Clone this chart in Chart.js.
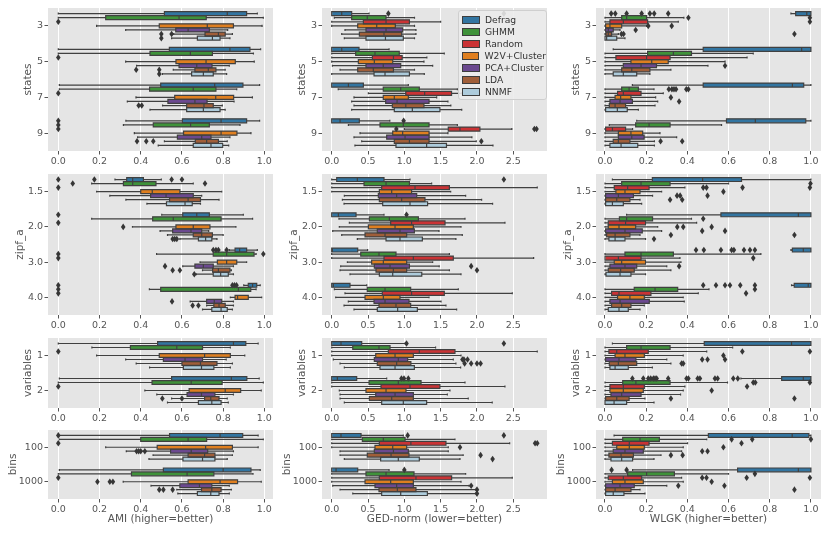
<!DOCTYPE html>
<html>
<head>
<meta charset="utf-8">
<script src="https://cdn.jsdelivr.net/npm/chart.js@4.4.1/dist/chart.umd.min.js"></script>
<style>
  html, body { margin: 0; padding: 0; background: #fff; width: 830px; height: 534px; overflow: hidden; position: relative; }
  canvas { position: absolute; }
  #legend { position: absolute; left: 458px; top: 10px; width: 87px; height: 85px; padding-top: 3px;
            background: rgba(236,236,236,0.88); border: 1px solid #cfcfcf; border-radius: 3px; z-index: 5;
            font-family: "DejaVu Sans"; font-size: 9.2px; color: #333; }
  #legend .row { height: 12px; line-height: 12px; display: flex; align-items: center; white-space: nowrap; }
  #legend .sw { width: 16px; height: 6px; margin: 0 5px 0 3px; border: 1px solid #3d3d3d; }
</style>
</head>
<body>
<div id="legend"></div>
<script>
// methods and palette
const methods = ['Defrag', 'GHMM', 'Random', 'W2V+Cluster', 'PCA+Cluster', 'LDA', 'NNMF'];
const colors = ['#3275A1', '#3F923A', '#CA3335', '#DF7F20', '#6B498F', '#A05E39', '#ADCBDB'];

// y categories
const statesLabels = ['3', '5', '7', '9'];
const zipfLabels = ['1.5', '2.0', '3.0', '4.0'];
const varsLabels = ['1', '2'];
const binsLabels = ['100', '1000'];

// x ticks
const amiTicks = [0, 0.2, 0.4, 0.6, 0.8, 1.0];
const gedTicks = [0, 0.5, 1.0, 1.5, 2.0, 2.5];
const wlgkTicks = [0, 0.2, 0.4, 0.6, 0.8, 1.0];

// box stats per method, per group: [whisker low, q1, median, q3, whisker high]
// outliers: [method, group, value]
const amiStates = [
  [[0, 0.515, 0.82, 0.914, 0.966], [0, 0.539, 0.833, 0.93, 0.982], [0.005, 0.497, 0.759, 0.896, 0.977], [0.328, 0.602, 0.79, 0.914, 0.977]],
  [[0, 0.23, 0.586, 0.718, 0.995], [0, 0.445, 0.641, 0.748, 0.947], [0.005, 0.443, 0.655, 0.765, 0.866], [0.316, 0.461, 0.642, 0.733, 0.882]],
  [[0, 0, 0, 0, 0], [0, 0, 0, 0, 0], [0, 0, 0, 0, 0], [0, 0, 0, 0, 0]],
  [[0.186, 0.49, 0.723, 0.85, 0.989], [0.327, 0.571, 0.717, 0.859, 0.951], [0.377, 0.565, 0.764, 0.851, 0.942], [0.369, 0.608, 0.79, 0.867, 0.935]],
  [[0.327, 0.57, 0.63, 0.733, 0.822], [0.38, 0.586, 0.672, 0.746, 0.83], [0.335, 0.532, 0.663, 0.722, 0.853], [0.385, 0.578, 0.696, 0.741, 0.833]],
  [[0.56, 0.712, 0.777, 0.81, 0.845], [0.558, 0.663, 0.728, 0.765, 0.81], [0.506, 0.623, 0.707, 0.752, 0.796], [0.515, 0.665, 0.72, 0.777, 0.82]],
  [[0.55, 0.675, 0.748, 0.785, 0.833], [0.505, 0.647, 0.704, 0.752, 0.817], [0.445, 0.623, 0.704, 0.785, 0.81], [0.485, 0.655, 0.741, 0.798, 0.827]]
];
const amiStatesOut = [[2, 0, 0], [2, 1, 0], [2, 2, 0], [2, 3, 0], [0, 3, 0], [1, 3, 0],
  [5, 0, 0.5], [5, 0, 0.55], [6, 0, 0.5], [5, 1, 0.378], [5, 1, 0.49], [6, 1, 0.49],
  [5, 2, 0.39], [5, 2, 0.405], [5, 3, 0.382], [5, 3, 0.427], [5, 3, 0.461]];

const gedStates = [
  [[0, 0, 0.138, 0.275, 0.514], [0, 0, 0.138, 0.376, 0.79], [0, 0, 0.23, 0.436, 1.055], [0, 0, 0.115, 0.38, 0.8]],
  [[0.037, 0.275, 0.49, 0.748, 1.14], [0, 0.33, 0.596, 0.93, 1.55], [0.09, 0.71, 0.95, 1.206, 1.73], [0.23, 0.665, 0.986, 1.34, 1.73]],
  [[0, 0.436, 0.748, 1.07, 1.5], [0, 0.56, 0.85, 0.97, 1.31], [0.505, 1.02, 1.28, 1.65, 1.79], [1.0, 1.605, 1.766, 2.04, 2.48]],
  [[0, 0.358, 0.62, 0.876, 1.14], [0, 0.367, 0.587, 0.84, 1.27], [0.307, 0.71, 0.862, 1.055, 1.445], [0.39, 0.84, 0.977, 1.34, 1.6]],
  [[0.183, 0.472, 0.748, 0.977, 1.16], [0.01, 0.472, 0.71, 0.95, 1.39], [0.275, 0.743, 0.9, 1.34, 1.6], [0.307, 0.757, 1.01, 1.34, 1.93]],
  [[0.138, 0.381, 0.72, 0.963, 1.16], [0.115, 0.358, 0.573, 0.85, 1.14], [0.307, 0.835, 1.02, 1.27, 1.64], [0.413, 0.862, 1.07, 1.34, 1.99]],
  [[0.174, 0.472, 0.74, 0.986, 1.14], [0, 0.583, 0.734, 1.07, 1.275], [0.275, 0.862, 1.11, 1.49, 1.79], [0.32, 0.885, 1.307, 1.58, 2.22]]
];
const gedStatesOut = [[0, 0, 0.78], [0, 0, 2.37], [0, 3, 0.99], [2, 3, 0.89], [2, 3, 2.79], [2, 3, 2.82], [5, 3, 2.06]];

const wlgkStates = [
  [[0.903, 0.926, 0.98, 1.0, 1.0], [0.04, 0.477, 0.955, 1.0, 1.0], [0.133, 0.477, 0.91, 0.965, 1.0], [0.154, 0.59, 0.73, 0.975, 1.0]],
  [[0, 0.081, 0.105, 0.202, 0.383], [0, 0.207, 0.332, 0.42, 0.72], [0, 0.081, 0.117, 0.162, 0.238], [0.021, 0.149, 0.214, 0.316, 0.566]],
  [[0, 0.024, 0.089, 0.207, 0.356], [0, 0.053, 0.202, 0.316, 0.69], [0, 0.061, 0.089, 0.175, 0.283], [0, 0.003, 0.036, 0.1, 0.134]],
  [[0, 0.003, 0.024, 0.081, 0.202], [0, 0.126, 0.227, 0.307, 0.583], [0, 0.049, 0.076, 0.126, 0.246], [0, 0.065, 0.126, 0.183, 0.267]],
  [[0, 0.003, 0.016, 0.04, 0.073], [0, 0.089, 0.175, 0.25, 0.5], [0, 0.024, 0.073, 0.133, 0.256], [0, 0.065, 0.13, 0.19, 0.348]],
  [[0, 0.005, 0.016, 0.032, 0.065], [0, 0.081, 0.13, 0.218, 0.32], [0, 0.021, 0.049, 0.1, 0.243], [0, 0.04, 0.065, 0.121, 0.24]],
  [[0, 0, 0.008, 0.057, 0.097], [0, 0.04, 0.089, 0.154, 0.218], [0, 0.003, 0.06, 0.108, 0.162], [0, 0.024, 0.078, 0.159, 0.24]]
];
const wlgkStatesOut = [[0, 0, 0.03], [0, 0, 0.05], [0, 0, 0.105], [0, 0, 0.178], [0, 0, 0.218], [0, 0, 0.239], [0, 0, 0.307],
  [1, 0, 0.405], [1, 0, 0.995], [2, 0, 0.995], [3, 0, 0.21], [3, 0, 0.324], [4, 0, 0.149], [5, 0, 0.08], [5, 0, 0.09], [5, 0, 0.92],
  [4, 1, 0.583],
  [1, 2, 0.31], [1, 2, 0.325], [1, 2, 0.335], [1, 2, 0.345], [1, 2, 0.395], [1, 2, 0.405], [3, 2, 0.32], [4, 2, 0.36],
  [5, 3, 0.27], [5, 3, 0.375]];

const amiZipf = [
  [[0.275, 0.332, 0.361, 0.413, 0.5], [0.502, 0.604, 0.672, 0.733, 0.898], [0.83, 0.858, 0.88, 0.914, 0.966], [0.9, 0.922, 0.943, 0.963, 0.98]],
  [[0.162, 0.316, 0.361, 0.474, 0.655], [0.162, 0.458, 0.558, 0.79, 0.943], [0.477, 0.752, 0.817, 0.95, 0.96], [0.442, 0.497, 0.874, 0.934, 0.96]],
  [[0, 0, 0, 0, 0], [0, 0, 0, 0, 0], [0, 0, 0, 0, 0], [0, 0, 0, 0, 0]],
  [[0.186, 0.4, 0.456, 0.59, 0.793], [0.36, 0.571, 0.655, 0.736, 0.862], [0.688, 0.772, 0.817, 0.866, 0.914], [0.835, 0.858, 0.87, 0.922, 0.987]],
  [[0.25, 0.448, 0.523, 0.655, 0.696], [0.494, 0.555, 0.644, 0.696, 0.73], [0.604, 0.663, 0.704, 0.752, 0.85], [0.64, 0.72, 0.757, 0.793, 0.85]],
  [[0.328, 0.54, 0.63, 0.69, 0.78], [0.53, 0.655, 0.696, 0.748, 0.8], [0.7, 0.749, 0.777, 0.833, 0.84], [0.72, 0.755, 0.78, 0.81, 0.85]],
  [[0.43, 0.525, 0.615, 0.65, 0.69], [0.59, 0.68, 0.715, 0.745, 0.77], [0.67, 0.752, 0.788, 0.825, 0.85], [0.7, 0.745, 0.79, 0.82, 0.845]]
];
const amiZipfOut = [[0, 0, 0], [0, 0, 0.175], [0, 0, 0.55], [0, 0, 0.6], [1, 0, 0.07], [1, 0, 0.712],
  [2, 0, 0], [2, 1, 0], [2, 2, 0], [2, 3, 0],
  [0, 1, 0], [3, 1, 0.315], [6, 1, 0.555], [6, 1, 0.565], [6, 1, 0.575],
  [0, 2, 0.752], [0, 2, 0.765], [0, 2, 0.777], [0, 2, 0.817], [1, 2, 0], [1, 2, 0.995], [4, 2, 0.518], [5, 2, 0.555], [5, 2, 0.59], [6, 2, 0.66],
  [0, 3, 0.845], [0, 3, 0.855], [0, 3, 0.865], [0, 3, 0], [1, 3, 0], [4, 3, 0.552], [5, 3, 0.652], [5, 3, 0.68]];

const gedZipf = [
  [[0, 0.069, 0.353, 0.72, 1.078], [0, 0, 0.092, 0.335, 0.72], [0, 0, 0.01, 0.358, 0.495], [0, 0, 0.023, 0.252, 0.482]],
  [[0, 0.445, 0.748, 1.07, 1.376], [0.1, 0.518, 0.794, 1.193, 1.835], [0, 0.4, 0.651, 0.885, 1.62], [0.037, 0.49, 0.734, 1.087, 1.743]],
  [[0, 0.688, 1.147, 1.62, 2.83], [0.243, 0.812, 1.1, 1.56, 2.385], [0, 0.72, 1.124, 1.674, 2.78], [0.183, 0.697, 1.1, 1.55, 2.486]],
  [[0, 0.656, 0.826, 1.1, 1.638], [0.105, 0.505, 0.872, 1.124, 1.78], [0.216, 0.55, 0.711, 1.032, 1.39], [0.055, 0.459, 0.711, 0.94, 1.34]],
  [[0.174, 0.642, 0.894, 1.17, 1.844], [0.014, 0.628, 0.94, 1.138, 1.477], [0.124, 0.587, 0.803, 1.07, 1.48], [0.229, 0.583, 0.734, 1.064, 1.505]],
  [[0.147, 0.656, 0.963, 1.284, 2.064], [0.138, 0.459, 0.734, 1.032, 1.798], [0.115, 0.61, 0.849, 1.032, 1.62], [0.17, 0.651, 0.885, 1.087, 1.573]],
  [[0.17, 0.702, 1.078, 1.32, 2.215], [0.353, 0.748, 0.94, 1.248, 1.71], [0.252, 0.656, 0.84, 1.24, 1.78], [0.307, 0.628, 0.908, 1.179, 1.72]]
];
const gedZipfOut = [[0, 0, 2.37], [0, 1, 1.03], [4, 2, 1.92], [5, 2, 2.0]];

const wlgkZipf = [
  [[0.036, 0.23, 0.474, 0.663, 1.0], [0.105, 0.563, 0.939, 1.0, 1.0], [0.903, 0.91, 0.963, 1.0, 1.0], [0.906, 0.919, 0.987, 1.0, 1.0]],
  [[0, 0.081, 0.175, 0.316, 0.6], [0, 0.07, 0.105, 0.231, 0.42], [0, 0.097, 0.175, 0.332, 0.757], [0, 0.142, 0.243, 0.353, 0.505]],
  [[0, 0.045, 0.11, 0.214, 0.388], [0, 0.016, 0.1, 0.197, 0.445], [0, 0, 0.065, 0.175, 0.364], [0, 0.032, 0.068, 0.223, 0.453]],
  [[0, 0.053, 0.097, 0.17, 0.275], [0, 0.016, 0.068, 0.149, 0.256], [0, 0.045, 0.081, 0.197, 0.369], [0, 0.061, 0.121, 0.191, 0.38]],
  [[0, 0.003, 0.065, 0.138, 0.231], [0, 0.003, 0.097, 0.181, 0.275], [0, 0.024, 0.097, 0.154, 0.3], [0, 0.024, 0.073, 0.215, 0.385]],
  [[0, 0.003, 0.057, 0.121, 0.17], [0, 0.008, 0.049, 0.121, 0.17], [0, 0.016, 0.076, 0.142, 0.32], [0, 0.032, 0.081, 0.126, 0.191]],
  [[0, 0.003, 0.036, 0.089, 0.178], [0, 0.019, 0.049, 0.097, 0.197], [0, 0.005, 0.073, 0.126, 0.197], [0, 0.016, 0.068, 0.113, 0.17]]
];
const wlgkZipfOut = [[1, 0, 0.998], [2, 0, 0.477], [2, 0, 0.493], [2, 0, 0.668], [2, 0, 0.995], [3, 0, 0.575],
  [4, 0, 0.35], [4, 0, 0.365], [4, 0, 0.498], [5, 0, 0.316], [5, 0, 0.375],
  [1, 1, 0.477], [3, 1, 0.351], [3, 1, 0.38], [3, 1, 0.518], [4, 1, 0.472], [4, 1, 0.583], [5, 1, 0.32], [5, 1, 0.92], [6, 1, 0.238],
  [0, 2, 0.442], [0, 2, 0.48], [0, 2, 0.563], [0, 2, 0.615], [0, 2, 0.626], [0, 2, 0.675], [0, 2, 0.704], [0, 2, 0.728], [2, 2, 0.72], [4, 2, 0.36],
  [0, 3, 0.477], [0, 3, 0.539], [0, 3, 0.583], [0, 3, 0.607], [0, 3, 0.657], [0, 3, 0.728], [1, 3, 0.728], [2, 3, 0.685]];

const amiVars = [
  [[0, 0.482, 0.85, 0.91, 0.97], [0.005, 0.55, 0.84, 0.915, 0.975]],
  [[0.163, 0.35, 0.575, 0.7, 0.835], [0, 0.455, 0.645, 0.795, 0.995]],
  [[0, 0, 0, 0, 0], [0, 0, 0, 0, 0]],
  [[0.186, 0.49, 0.71, 0.835, 0.905], [0.42, 0.635, 0.81, 0.885, 0.985]],
  [[0.327, 0.51, 0.615, 0.7, 0.815], [0.478, 0.625, 0.695, 0.76, 0.85]],
  [[0.378, 0.6, 0.69, 0.77, 0.845], [0.55, 0.71, 0.74, 0.78, 0.82]],
  [[0.443, 0.607, 0.695, 0.755, 0.835], [0.53, 0.68, 0.745, 0.79, 0.825]]
];
const amiVarsOut = [[2, 0, 0], [2, 1, 0], [5, 1, 0.505], [5, 1, 0.6]];

const gedVars = [
  [[0, 0, 0.128, 0.413, 1.01], [0, 0, 0.078, 0.344, 0.757]],
  [[0, 0.29, 0.651, 0.803, 1.43], [0, 0.514, 0.917, 1.23, 1.835]],
  [[0, 0.78, 1.206, 1.697, 2.83], [0, 0.679, 1.078, 1.49, 2.385]],
  [[0, 0.606, 0.872, 1.124, 1.78], [0.105, 0.472, 0.748, 1.023, 1.628]],
  [[0.023, 0.587, 0.917, 1.046, 1.674], [0.115, 0.606, 0.872, 1.124, 1.592]],
  [[0.115, 0.628, 0.894, 1.09, 1.71], [0.115, 0.518, 0.826, 1.124, 1.88]],
  [[0.174, 0.665, 0.872, 1.138, 1.775], [0.174, 0.688, 0.986, 1.307, 2.21]]
];
const gedVarsOut = [[0, 0, 1.03], [0, 0, 2.37], [4, 0, 1.8], [4, 0, 1.82], [4, 0, 1.87], [5, 0, 1.83], [5, 0, 1.92], [5, 0, 2.0], [5, 0, 2.05],
  [0, 1, 0.96], [0, 1, 0.995], [0, 1, 1.055]];

const wlgkVars = [
  [[0.036, 0.482, 0.906, 1.0, 1.0], [0.66, 0.858, 0.963, 1.0, 1.0]],
  [[0, 0.105, 0.175, 0.316, 0.62], [0, 0.086, 0.15, 0.316, 0.595]],
  [[0, 0.019, 0.057, 0.21, 0.494], [0, 0.024, 0.089, 0.191, 0.388]],
  [[0, 0.049, 0.097, 0.191, 0.38], [0, 0.024, 0.089, 0.186, 0.38]],
  [[0, 0.003, 0.068, 0.15, 0.3], [0, 0.029, 0.081, 0.175, 0.367]],
  [[0, 0.021, 0.065, 0.154, 0.32], [0, 0.003, 0.057, 0.117, 0.194]],
  [[0, 0.024, 0.049, 0.113, 0.23], [0, 0, 0.044, 0.105, 0.238]]
];
const wlgkVarsOut = [[2, 0, 0.667], [2, 0, 0.995], [3, 0, 0.575], [4, 0, 0.472], [4, 0, 0.498], [4, 0, 0.583], [5, 0, 0.372], [5, 0, 0.38],
  [0, 1, 0.133], [0, 1, 0.186], [0, 1, 0.21], [0, 1, 0.222], [0, 1, 0.235], [0, 1, 0.243], [0, 1, 0.251], [0, 1, 0.307],
  [0, 1, 0.396], [0, 1, 0.405], [0, 1, 0.45], [0, 1, 0.461], [0, 1, 0.534], [0, 1, 0.547], [0, 1, 0.623], [0, 1, 0.645],
  [1, 1, 0.72], [1, 1, 0.73], [1, 1, 0.995], [2, 1, 0.69], [3, 1, 0.518], [5, 1, 0.32], [5, 1, 0.92]];

const amiBins = [
  [[0, 0.54, 0.785, 0.895, 0.97], [0.005, 0.51, 0.8, 0.935, 0.98]],
  [[0.005, 0.4, 0.63, 0.72, 0.995], [0, 0.355, 0.625, 0.755, 0.945]],
  [[0, 0, 0, 0, 0], [0, 0, 0, 0, 0]],
  [[0.23, 0.48, 0.715, 0.845, 0.97], [0.315, 0.63, 0.785, 0.87, 0.985]],
  [[0.33, 0.545, 0.645, 0.725, 0.85], [0.45, 0.59, 0.685, 0.745, 0.83]],
  [[0.46, 0.63, 0.71, 0.76, 0.845], [0.575, 0.695, 0.745, 0.79, 0.84]],
  [[0.44, 0.605, 0.7, 0.76, 0.82], [0.58, 0.675, 0.74, 0.78, 0.83]]
];
const amiBinsOut = [[0, 0, 0], [2, 0, 0], [2, 1, 0], [3, 1, 0.19], [3, 1, 0.25], [3, 1, 0.265],
  [4, 0, 0.38], [4, 0, 0.39], [4, 0, 0.4], [4, 0, 0.42], [5, 1, 0.49], [5, 1, 0.51], [5, 1, 0.555]];

const gedBins = [
  [[0, 0, 0.128, 0.404, 0.986], [0, 0, 0.06, 0.358, 0.79]],
  [[0, 0.422, 0.711, 1.01, 1.697], [0, 0.472, 0.748, 1.133, 1.844]],
  [[0, 0.656, 1.09, 1.573, 2.45], [0, 0.656, 1.16, 1.651, 2.486]],
  [[0, 0.596, 0.84, 1.032, 1.605], [0, 0.459, 0.812, 1.124, 1.78]],
  [[0.115, 0.587, 0.85, 1.055, 1.605], [0.014, 0.596, 0.894, 1.124, 1.89]],
  [[0.115, 0.49, 0.817, 1.064, 1.81], [0.115, 0.651, 0.904, 1.16, 1.98]],
  [[0.174, 0.674, 0.917, 1.206, 1.766], [0.29, 0.688, 0.95, 1.317, 1.98]]
];
const gedBinsOut = [[0, 0, 1.046], [0, 0, 2.37], [2, 0, 2.8], [2, 0, 2.83], [3, 0, 1.766], [5, 0, 2.05], [6, 0, 2.215],
  [0, 1, 1.0], [4, 1, 1.92], [5, 1, 2.0], [6, 1, 2.0]];

const wlgkBins = [
  [[0.044, 0.502, 0.909, 0.99, 1.0], [0.134, 0.644, 0.939, 1.0, 1.0]],
  [[0, 0.086, 0.17, 0.264, 0.494], [0, 0.11, 0.202, 0.337, 0.6]],
  [[0, 0.036, 0.118, 0.214, 0.401], [0, 0.016, 0.089, 0.178, 0.372]],
  [[0, 0.057, 0.118, 0.191, 0.38], [0, 0.036, 0.097, 0.186, 0.38]],
  [[0, 0.04, 0.097, 0.186, 0.372], [0, 0.003, 0.073, 0.142, 0.3]],
  [[0, 0.019, 0.078, 0.138, 0.272], [0, 0.003, 0.049, 0.126, 0.17]],
  [[0, 0.029, 0.081, 0.134, 0.238], [0, 0.003, 0.04, 0.092, 0.194]]
];
const wlgkBinsOut = [[1, 0, 0.615], [1, 0, 0.715], [1, 0, 1.0], [2, 0, 0.663], [3, 0, 0.575], [4, 0, 0.472], [4, 0, 0.498], [5, 0, 0.32], [5, 0, 0.377],
  [0, 1, 0.032], [0, 1, 0.105], [1, 1, 0.728], [2, 1, 0.472], [2, 1, 0.493], [2, 1, 0.688], [2, 1, 0.995], [3, 1, 0.518], [4, 1, 0.356], [4, 1, 0.58], [5, 1, 0.92]];

// layout of the grid (pixels)
const YW = 48, PT = 10, PR = 14;
const EDGE = '#404040';
const rows = [
  {top: 8, bottom: 151, xh: 18, labels: statesLabels, title: 'states', dist: 19.5},
  {top: 174, bottom: 315, xh: 18, labels: zipfLabels, title: 'zipf_a', dist: 27.5},
  {top: 338, bottom: 408, xh: 18, labels: varsLabels, title: 'variables', dist: 19.5},
  {top: 430, bottom: 499, xh: 36, labels: binsLabels, title: 'bins', dist: 35}
];
const cols = [
  {left: 48, right: 273, min: -0.05, max: 1.042, ticks: amiTicks, xTitle: 'AMI (higher=better)'},
  {left: 322, right: 547, min: -0.1335, max: 2.964, ticks: gedTicks, xTitle: 'GED-norm (lower=better)'},
  {left: 596, right: 821, min: -0.0437, max: 1.049, ticks: wlgkTicks, xTitle: 'WLGK (higher=better)'}
];
const panels = [
  [[amiStates, amiStatesOut], [gedStates, gedStatesOut], [wlgkStates, wlgkStatesOut]],
  [[amiZipf, amiZipfOut], [gedZipf, gedZipfOut], [wlgkZipf, wlgkZipfOut]],
  [[amiVars, amiVarsOut], [gedVars, gedVarsOut], [wlgkVars, wlgkVarsOut]],
  [[amiBins, amiBinsOut], [gedBins, gedBinsOut], [wlgkBins, wlgkBinsOut]]
];

Chart.defaults.font.family = 'DejaVu Sans';
Chart.defaults.color = '#555';

// background, box outlines, whiskers, medians and fliers
const boxPlugin = {
  id: 'boxes',
  beforeDraw(chart) {
    const {ctx, chartArea: a} = chart;
    ctx.save();
    ctx.fillStyle = '#E5E5E5';
    ctx.fillRect(a.left, a.top, a.right - a.left, a.bottom - a.top);
    ctx.restore();
  },
  afterDatasetsDraw(chart) {
    const {ctx} = chart;
    const xs = chart.scales.x;
    const px = v => xs.getPixelForValue(v);
    ctx.save();
    ctx.strokeStyle = EDGE;
    ctx.lineWidth = 1.2;
    ctx.fillStyle = '#363636';
    chart.data.datasets.forEach((ds, i) => {
      const meta = chart.getDatasetMeta(i);
      meta.data.forEach((bar, j) => {
        const [lo, q1, med, q3, hi] = ds.stats[j];
        const y = bar.y, h = bar.height;
        if (hi > lo) {
          ctx.beginPath();
          ctx.rect(px(q1), y - h / 2, px(q3) - px(q1), h);
          ctx.moveTo(px(lo), y); ctx.lineTo(px(q1), y);
          ctx.moveTo(px(q3), y); ctx.lineTo(px(hi), y);
          ctx.moveTo(px(lo), y - h / 4); ctx.lineTo(px(lo), y + h / 4);
          ctx.moveTo(px(hi), y - h / 4); ctx.lineTo(px(hi), y + h / 4);
          ctx.moveTo(px(med), y - h / 2); ctx.lineTo(px(med), y + h / 2);
          ctx.stroke();
        }
        ds.outliers[j].forEach(v => {
          const cx = px(v);
          ctx.beginPath();
          ctx.moveTo(cx, y - 3.3); ctx.lineTo(cx + 2.3, y); ctx.lineTo(cx, y + 3.3); ctx.lineTo(cx - 2.3, y);
          ctx.closePath();
          ctx.fill();
        });
      });
    });
    ctx.restore();
  }
};

function makePanel(r, c) {
  const row = rows[r], col = cols[c];
  const [stats, out] = panels[r][c];
  const canvas = document.createElement('canvas');
  const w = YW + (col.right - col.left) + PR;
  const h = PT + (row.bottom - row.top) + row.xh;
  canvas.width = w; canvas.height = h;
  canvas.style.width = w + 'px'; canvas.style.height = h + 'px';
  canvas.style.left = (col.left - YW) + 'px';
  canvas.style.top = (row.top - PT) + 'px';
  document.body.appendChild(canvas);

  const datasets = methods.map((m, i) => ({
    label: m,
    data: stats[i].map(s => [s[1], s[3]]),
    stats: stats[i],
    outliers: row.labels.map((_, g) => out.filter(o => o[0] === i && o[1] === g).map(o => o[2])),
    backgroundColor: colors[i],
    borderWidth: 0,
    categoryPercentage: 0.8,
    barPercentage: 0.98
  }));

  new Chart(canvas.getContext('2d'), {
    type: 'bar',
    data: {labels: row.labels, datasets: datasets},
    plugins: [boxPlugin],
    options: {
      indexAxis: 'y',
      responsive: false,
      animation: false,
      events: [],
      layout: {padding: {top: PT, right: PR, left: 0, bottom: 0}},
      plugins: {legend: {display: false}, tooltip: {enabled: false}},
      scales: {
        x: {
          type: 'linear',
          min: col.min,
          max: col.max,
          afterBuildTicks: s => { s.ticks = col.ticks.map(v => ({value: v})); },
          afterFit: s => { s.height = row.xh; },
          grid: {color: '#ffffff', lineWidth: 1, drawTicks: true, tickLength: 3.5, tickColor: '#555', tickWidth: 1},
          border: {display: false},
          ticks: {color: '#555', font: {size: 9.5}, padding: 1, maxRotation: 0, autoSkip: false,
                  callback: v => Number(v).toFixed(1)},
          title: {display: r === 3, text: col.xTitle, color: '#555', font: {size: 10.5},
                  padding: {top: 0, bottom: 9}}
        },
        y: {
          type: 'category',
          afterFit: s => { s.width = YW; },
          grid: {display: true, offset: false, drawOnChartArea: false, drawTicks: true, tickLength: 3.5, tickColor: '#555', tickWidth: 1},
          border: {display: false},
          ticks: {color: '#555', font: {size: 9.5}, padding: 1.5},
          title: {display: true, text: row.title, color: '#555', font: {size: 10.5},
                  padding: {top: YW - row.dist - 6.3, bottom: 0}}
        }
      }
    }
  });
}

for (let r = 0; r < rows.length; r++) {
  for (let c = 0; c < cols.length; c++) makePanel(r, c);
}

// legend
const legend = document.getElementById('legend');
methods.forEach((m, i) => {
  const rowEl = document.createElement('div');
  rowEl.className = 'row';
  const sw = document.createElement('span');
  sw.className = 'sw';
  sw.style.background = colors[i];
  const tx = document.createElement('span');
  tx.textContent = m;
  rowEl.appendChild(sw);
  rowEl.appendChild(tx);
  legend.appendChild(rowEl);
});
</script>
</body>
</html>
